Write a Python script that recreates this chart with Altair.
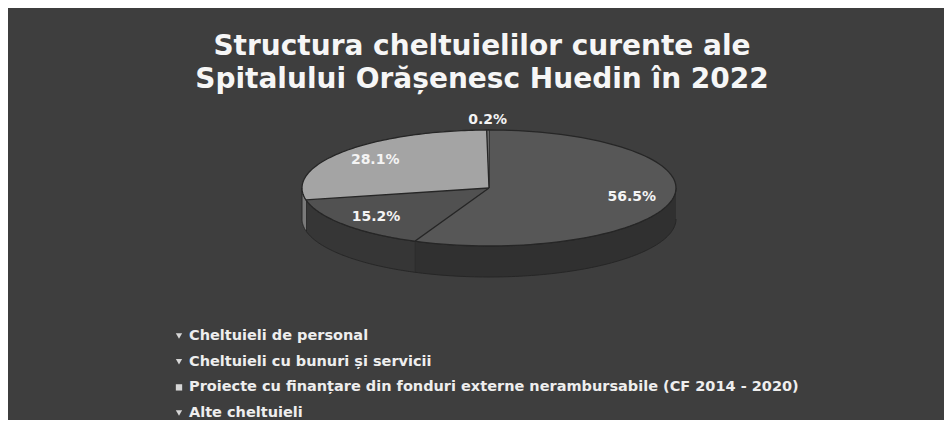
import altair as alt
import pandas as pd

# ---------------- data ----------------
TITLE_LINES = ["Structura cheltuielilor curente ale",
               "Spitalului Orășenesc Huedin în 2022"]
CATEGORIES = ["Cheltuieli de personal",
              "Cheltuieli cu bunuri și servicii",
              "Proiecte cu finanțare din fonduri externe nerambursabile (CF 2014 - 2020)",
              "Alte cheltuieli"]
SHARES = [56.5, 15.2, 28.1, 0.2]

# ---------------- styles ----------------
TOP_COLORS = ["#575757", "#515151", "#a4a4a4", "#6a6a6a"]
SIDE_COLORS = ["#303030", "#363636", "#7a7a7a", "#444444"]
MARKER_SHAPES = ["triangle-down", "triangle-down", "square", "triangle-down"]
BG = "#3e3e3e"
FONT = "DejaVu Sans"

W, H = 936, 412           # view size (page minus 8px margins)
CX, CY = 481, 180         # pie centre in view pixels
RX, RY = 187, 58          # ellipse radii of the tilted pie
DEPTH = 31                # thickness of the 3-D side
N = 90                    # arc sampling steps

# table the library needs: each slice repeated over sampling steps
top_rows, side_rows = [], []
for i, (c, v) in enumerate(zip(CATEGORIES, SHARES)):
    for k in range(-1, N + 1):
        top_rows.append({"cat": c, "order": i, "value": v, "k": k})
    for k in range(0, 2 * (N + 1)):
        side_rows.append({"cat": c, "order": i, "value": v, "k": k})
top_df = pd.DataFrame(top_rows)
side_df = pd.DataFrame(side_rows)
slice_df = pd.DataFrame({"cat": CATEGORIES, "order": list(range(len(CATEGORIES))), "value": SHARES})
legend_df = pd.DataFrame({"cat": CATEGORIES, "idx": list(range(len(CATEGORIES)))})
title_df = pd.DataFrame({"line": TITLE_LINES, "idx": list(range(len(TITLE_LINES)))})

xs = alt.Scale(domain=[0, W], nice=False, zero=False)
ys = alt.Scale(domain=[0, H], nice=False, zero=False, reverse=True)


def with_angles(ch):
    return (ch.transform_joinaggregate(total="sum(value)")
              .transform_joinaggregate(cnt="count()", groupby=["cat"])
              .transform_window(cum="sum(value)", sort=[alt.SortField("order")],
                                frame=[None, 0], ignorePeers=False)
              .transform_calculate(end="datum.cum / datum.total")
              .transform_calculate(start="datum.end - datum.value * datum.cnt / datum.total"))


# side (front wall) of the 3-D pie
side = with_angles(alt.Chart(side_df)).transform_calculate(
    s2="max(datum.start, 0.25)", e2="min(datum.end, 0.75)"
).transform_filter("datum.s2 < datum.e2").transform_calculate(
    j=f"datum.k <= {N} ? datum.k : {2 * N + 1} - datum.k"
).transform_calculate(
    t="datum.s2 + (datum.e2 - datum.s2) * datum.j / " + str(N)
).transform_calculate(
    px=f"{CX} + {RX} * sin(2 * PI * datum.t)",
    py=f"(datum.k <= {N} ? {CY} : {CY + DEPTH}) - {RY} * cos(2 * PI * datum.t)",
).mark_line(stroke="#262626", strokeWidth=1, interpolate="linear").encode(
    x=alt.X("px:Q", scale=xs, axis=None),
    y=alt.Y("py:Q", scale=ys, axis=None),
    order=alt.Order("k:Q"),
    detail="cat:N",
    fill=alt.Fill("cat:N", scale=alt.Scale(domain=CATEGORIES, range=SIDE_COLORS), legend=None),
)

# top face
top = with_angles(alt.Chart(top_df)).transform_calculate(
    a=f"2 * PI * (datum.start + (datum.end - datum.start) * datum.k / {N})"
).transform_calculate(
    px=f"datum.k < 0 ? {CX} : {CX} + {RX} * sin(datum.a)",
    py=f"datum.k < 0 ? {CY} : {CY} - {RY} * cos(datum.a)",
).mark_line(stroke="#262626", strokeWidth=1.3).encode(
    x=alt.X("px:Q", scale=xs, axis=None),
    y=alt.Y("py:Q", scale=ys, axis=None),
    order=alt.Order("k:Q"),
    detail="cat:N",
    fill=alt.Fill("cat:N", scale=alt.Scale(domain=CATEGORIES, range=TOP_COLORS), legend=None),
)

# data labels
labels = alt.Chart(slice_df).transform_joinaggregate(total="sum(value)").transform_window(
    cum="sum(value)", sort=[alt.SortField("order")], frame=[None, 0]
).transform_calculate(
    mid="(datum.cum - datum.value / 2) / datum.total",
    r="datum.value / datum.total < 0.02 ? 1.18 : 0.78",
    label="format(datum.value, '.1f') + '%'",
).transform_calculate(
    lx=f"{CX} + {RX} * datum.r * sin(2 * PI * datum.mid)",
    ly=f"{CY} - {RY} * datum.r * cos(2 * PI * datum.mid)",
).mark_text(font=FONT, fontSize=14, fontWeight="bold", color="#f4f4f4",
            align="center", baseline="middle").encode(
    x=alt.X("lx:Q", scale=xs, axis=None),
    y=alt.Y("ly:Q", scale=ys, axis=None),
    text="label:N",
)

# title
title = alt.Chart(title_df).transform_calculate(
    ty="39 + datum.idx * 33"
).mark_text(font=FONT, fontSize=28, fontWeight="bold", color="#f6f6f6",
            align="center", baseline="middle").encode(
    x=alt.value(474),
    y=alt.Y("ty:Q", scale=ys, axis=None),
    text="line:N",
)

# legend
leg_marks = alt.Chart(legend_df).transform_calculate(
    ly="328 + datum.idx * 25.7"
).mark_point(filled=True, size=40, color="#d6d6d6", opacity=1).encode(
    x=alt.value(171),
    y=alt.Y("ly:Q", scale=ys, axis=None),
    shape=alt.Shape("cat:N", scale=alt.Scale(domain=CATEGORIES, range=MARKER_SHAPES), legend=None),
)
leg_text = alt.Chart(legend_df).transform_calculate(
    ly="328 + datum.idx * 25.7"
).mark_text(font=FONT, fontSize=14.5, fontWeight="bold", color="#eeeeee",
            align="left", baseline="middle").encode(
    x=alt.value(181),
    y=alt.Y("ly:Q", scale=ys, axis=None),
    text="cat:N",
)

chart = alt.layer(side, top, labels, title, leg_marks, leg_text).resolve_scale(
    fill="independent"
).properties(
    width=W, height=H, padding=0, background=BG,
    autosize=alt.AutoSizeParams(type="none"),
).configure_view(stroke=None)

chart.save("out.html", embed_options={"renderer": "svg", "actions": False})
